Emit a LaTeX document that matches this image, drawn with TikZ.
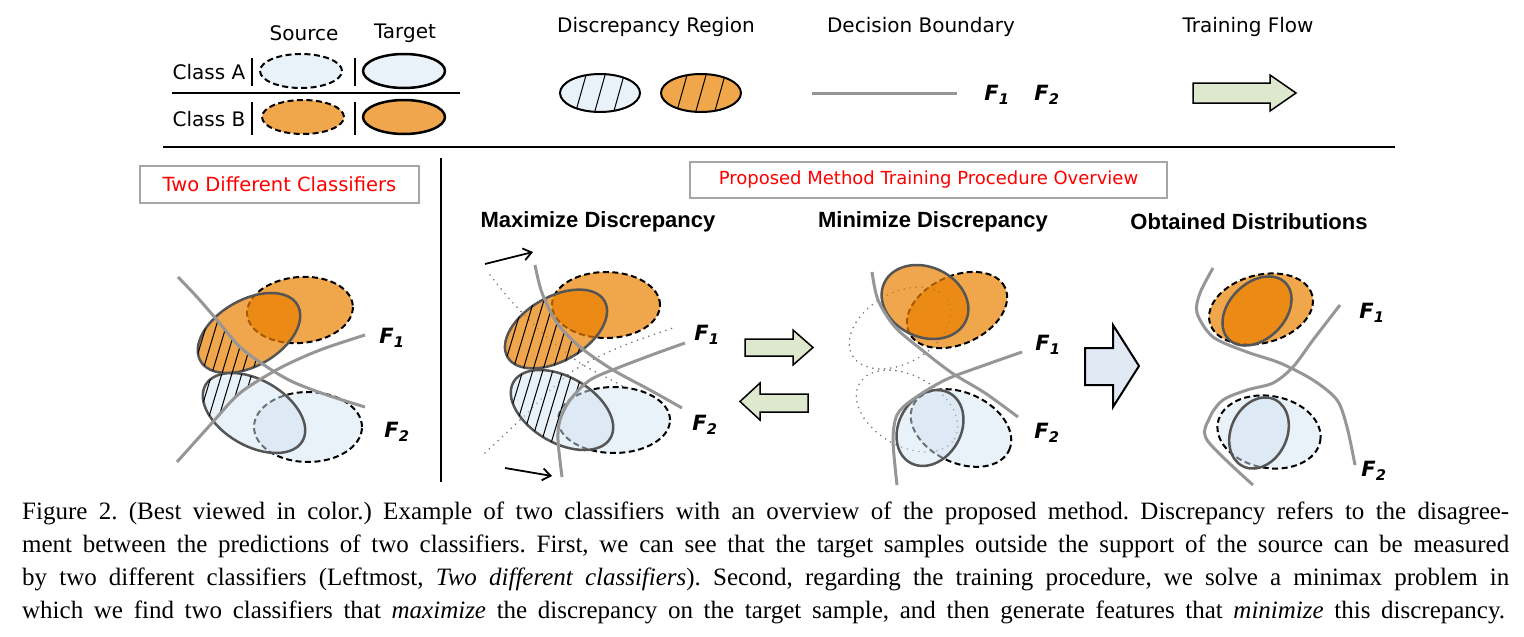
\documentclass[tikz,border=0pt]{standalone}
\usepackage{fontspec}
\setmainfont{Liberation Serif}
\setsansfont{DejaVu Sans}
\newfontfamily\headfont{Liberation Sans}
\usetikzlibrary{arrows.meta}

\definecolor{srcorange}{RGB}{240,166,75}
\definecolor{tgtorange}{RGB}{234,128,0}
\definecolor{srcblue}{RGB}{233,241,249}
\definecolor{tgtblue}{RGB}{211,227,243}
\definecolor{bndgray}{RGB}{150,150,150}
\definecolor{edgegray}{RGB}{85,85,85}
\definecolor{flowgreen}{RGB}{222,232,205}
\definecolor{flowblue}{RGB}{225,233,244}

\begin{document}
\begin{tikzpicture}[x=1pt,y=-1pt,
  lbl/.style={font=\sffamily\fontsize{20}{24}\selectfont},
  head/.style={font=\headfont\bfseries\fontsize{22}{26}\selectfont},
  fl/.style={font=\sffamily\bfseries\itshape\fontsize{21}{24}\selectfont},
  redbox/.style={draw=black!35, line width=1.2pt, text=red, inner sep=0pt},
  srcO/.style={fill=srcorange, draw=black, line width=2pt, dash pattern=on 6pt off 3.5pt},
  srcA/.style={fill=srcblue, draw=black, line width=2pt, dash pattern=on 6pt off 3.5pt},
  tgtO/.style={fill=tgtorange, fill opacity=0.7, draw=edgegray, line width=2.5pt},
  tgtA/.style={fill=tgtblue, fill opacity=0.5, draw=edgegray, line width=2.5pt},
  bnd/.style={draw=bndgray, line width=3pt},
  olddot/.style={draw=black!55, line width=1.8pt, dash pattern=on 0pt off 6pt, line cap=round},
  hatch/.style={line width=1pt},
  flow/.style={draw=black, line width=1.5pt, fill=flowgreen, line join=miter}]

\useasboundingbox (0,0) rectangle (1524,637);

% Legend: classes
\node[lbl] (src) at (304,33) {Source};
\node[lbl] (tgt) at (405,33) {Target};
\node[lbl] (clsA) at (209,72) {Class A};
\node[lbl] (clsB) at (209,119) {Class B};
\draw[line width=1.5pt] (172,93) -- (460,93);
\foreach \x in {252,355} {
    \draw[line width=1.5pt] (\x,58) -- (\x,86);
    \draw[line width=1.5pt] (\x,102) -- (\x,135);
}
\draw[srcA] (301,71) ellipse [x radius=41pt, y radius=17pt];
\draw[tgtA, draw=black] (404,71) ellipse [x radius=41pt, y radius=17pt];
\draw[srcO] (303,117) ellipse [x radius=41pt, y radius=17pt];
\draw[tgtO, draw=black] (404,117) ellipse [x radius=41pt, y radius=17pt];

% Legend: discrepancy region
\node[lbl] (disc) at (656,27) {Discrepancy Region};
\foreach \cx/\col in {600/srcblue, 701/srcorange} {
    \draw[fill=\col, line width=2pt] (\cx,93) ellipse [x radius=40pt, y radius=19pt];
    \begin{scope}
        \clip (\cx,93) ellipse [x radius=40pt, y radius=19pt];
        \foreach \h in {-19,0,19} \draw[hatch] (\cx+\h-9,125) -- ++(18,-64);
    \end{scope}
}

% Legend: decision boundary and flow
\node[lbl] (dec) at (921,27) {Decision Boundary};
\draw[bnd] (812,93) -- (957,93);
\node[fl] (lgF1) at (997,95) {F\textsubscript{1}};
\node[fl] (lgF2) at (1047,95) {F\textsubscript{2}};
\node[lbl] (flw) at (1248,27) {Training Flow};
\draw[flow] (1193,83) -- (1270,83) -- (1270,75) -- (1296,93) -- (1270,111) -- (1270,103) -- (1193,103) -- cycle;

% Rules
\draw[line width=2pt] (163,147) -- (1395,147);
\draw[line width=2pt] (441,158) -- (441,482);

% Titles
\node[redbox, minimum width=279pt, minimum height=37pt,
      font=\sffamily\fontsize{19.5}{22}\selectfont] (twobox) at (279.5,184.5) {Two Different Classifiers};
\node[redbox, minimum width=477pt, minimum height=36pt,
      font=\sffamily\fontsize{18}{22}\selectfont] (ovbox) at (928.5,180) {Proposed Method Training Procedure Overview};
\node[head] (maxT) at (598,222) {Maximize Discrepancy};
\node[head] (minT) at (933,222) {Minimize Discrepancy};
\node[head] (objT) at (1249,222) {Obtained Distributions};

% Two different classifiers
\def\lfone{plot[smooth] coordinates {(177,462) (212,423) (240,393) (280,368) (320,350) (365,335)}}
\def\lftwo{plot[smooth] coordinates {(178,277) (197,297) (217,320) (240,347) (267,367) (293,382) (327,395) (365,407)}}
\draw[srcO, rotate around={5:(300,310)}] (300,310) ellipse [x radius=53pt, y radius=33pt];
\draw[srcA] (308,427) ellipse [x radius=54pt, y radius=35pt];
\draw[tgtO, rotate around={30:(249,333)}] (249,333) ellipse [x radius=56pt, y radius=33pt];
\draw[tgtA, rotate around={-30:(254,413)}] (254,413) ellipse [x radius=56pt, y radius=33pt];
\foreach \cx/\cy/\ang in {249/333/30, 254/413/-30} {
    \begin{scope}
        \clip \lftwo -- (365,600) -- (100,600) -- (100,277) -- cycle;
        \clip \lfone -- (365,150) -- (100,150) -- (100,462) -- cycle;
        \clip[rotate around={\ang:(\cx,\cy)}] (\cx,\cy) ellipse [x radius=56pt, y radius=33pt];
        \foreach \h in {140,150,...,300} \draw[hatch] (\h,480) -- ++(60,-200);
    \end{scope}
}
\draw[bnd] \lfone;
\draw[bnd] \lftwo;
\node[fl] (lF1) at (392,338) {F\textsubscript{1}};
\node[fl] (lF2) at (397,432) {F\textsubscript{2}};

% Maximize discrepancy
\def\mxone{plot[smooth] coordinates {(562,477) (558,440) (560,420) (570,400) (590,380) (620,367) (657,353) (685,343)}}
\def\mxtwo{plot[smooth] coordinates {(535,265) (542,293) (557,323) (580,347) (613,370) (650,390) (682,408)}}
\draw[srcO] (606,305) ellipse [x radius=54pt, y radius=33pt];
\draw[srcA] (614,420) ellipse [x radius=56pt, y radius=33pt];
\draw[olddot] plot[smooth] coordinates {(490,275) (513,303) (547,337) (580,363) (617,383) (628,389)};
\draw[olddot] plot[smooth] coordinates {(485,453) (520,420) (570,373) (620,347) (673,328)};
\draw[tgtO, rotate around={30:(556,329)}] (556,329) ellipse [x radius=56pt, y radius=32pt];
\draw[tgtA, rotate around={-30:(562,410)}] (562,410) ellipse [x radius=56pt, y radius=33pt];
\foreach \cx/\cy/\ang in {556/329/30, 562/410/-30} {
    \begin{scope}
        \clip \mxtwo -- (682,600) -- (450,600) -- (450,265) -- cycle;
        \clip \mxone -- (685,150) -- (450,150) -- (450,477) -- cycle;
        \clip[rotate around={\ang:(\cx,\cy)}] (\cx,\cy) ellipse [x radius=56pt, y radius=33pt];
        \foreach \h in {440,450,...,620} \draw[hatch] (\h,480) -- ++(60,-200);
    \end{scope}
}
\draw[bnd] \mxone;
\draw[bnd] \mxtwo;
\coordinate (mxa1) at (485,264);
\coordinate (mxa2) at (533,252);
\coordinate (mxb1) at (505,468);
\coordinate (mxb2) at (552,476);
\draw[line width=1.8pt, -{Straight Barb[length=8pt,width=12pt]}] (mxa1) -- (mxa2);
\draw[line width=1.8pt, -{Straight Barb[length=8pt,width=12pt]}] (mxb1) -- (mxb2);
\node[fl] (mF1) at (707,335) {F\textsubscript{1}};
\node[fl] (mF2) at (705,425) {F\textsubscript{2}};

% Flow between steps
\draw[flow] (745,339) -- (793,339) -- (793,330) -- (813,347.5) -- (793,365) -- (793,356) -- (745,356) -- cycle;
\draw[flow] (808,394) -- (760,394) -- (760,383) -- (740,401.5) -- (760,420) -- (760,412) -- (808,412) -- cycle;

% Minimize discrepancy
\def\mnone{plot[smooth] coordinates {(897,485) (893,440) (897,415) (912,400) (945,380) (985,365) (1022,352)}}
\def\mntwo{plot[smooth] coordinates {(872,272) (878,300) (895,327) (922,350) (952,373) (985,393) (1018,417)}}
\draw[srcO, rotate around={25:(957,310)}] (957,310) ellipse [x radius=53pt, y radius=34pt];
\draw[srcA, rotate around={-25:(961,428)}] (961,428) ellipse [x radius=53pt, y radius=35pt];
\draw[olddot, rotate around={30:(900,328)}] (900,328) ellipse [x radius=55pt, y radius=35pt];
\draw[olddot, rotate around={-30:(907,411)}] (907,411) ellipse [x radius=55pt, y radius=35pt];
\draw[tgtO, rotate around={-25:(925,302)}] (925,302) ellipse [x radius=45pt, y radius=35pt];
\draw[tgtA, rotate around={60:(930,428)}] (930,428) ellipse [x radius=40pt, y radius=31pt];
\draw[bnd] \mnone;
\draw[bnd] \mntwo;
\node[fl] (nF1) at (1048,345) {F\textsubscript{1}};
\node[fl] (nF2) at (1047,433) {F\textsubscript{2}};

% Flow to result
\draw[flow, fill=flowblue, line width=2pt] (1085,348) -- (1113,348) -- (1113,325) -- (1139,366) -- (1113,407) -- (1113,385) -- (1085,385) -- cycle;

% Obtained distributions
\draw[srcO, rotate around={15:(1261,309)}] (1261,309) ellipse [x radius=53pt, y radius=34pt];
\draw[srcA, rotate around={-10:(1269,432)}] (1269,432) ellipse [x radius=52pt, y radius=36pt];
\draw[tgtO, rotate around={45:(1257,311)}] (1257,311) ellipse [x radius=40pt, y radius=28pt];
\draw[tgtA, rotate around={65:(1259,433)}] (1259,433) ellipse [x radius=37pt, y radius=28pt];
\draw[bnd] plot[smooth] coordinates {(1253,485) (1207,440) (1210,417) (1223,400) (1247,390) (1273,383) (1293,367) (1313,340) (1340,305)};
\draw[bnd] plot[smooth] coordinates {(1213,268) (1200,293) (1197,313) (1213,337) (1247,352) (1280,363) (1313,380) (1337,400) (1347,427) (1355,465)};
\node[fl] (oF1) at (1372,313) {F\textsubscript{1}};
\node[fl] (oF2) at (1374,471) {F\textsubscript{2}};

% Caption
\node[anchor=north west, inner sep=0pt, align=left,
      font=\rmfamily\frenchspacing\fontsize{25}{33}\selectfont] (cap) at (22,502) {%
\makebox[1487pt][s]{Figure 2. (Best viewed in color.) Example of two classifiers with an overview of the proposed method. Discrepancy refers to the disagree-}\\
\makebox[1487pt][s]{ment between the predictions of two classifiers. First, we can see that the target samples outside the support of the source can be measured}\\
\makebox[1487pt][s]{by two different classifiers (Leftmost, \textit{Two different classifiers}). Second, regarding the training procedure, we solve a minimax problem in}\\
\makebox[1483pt][s]{which we find two classifiers that \textit{maximize} the discrepancy on the target sample, and then generate features that \textit{minimize} this discrepancy.}};
\end{tikzpicture}
\end{document}
